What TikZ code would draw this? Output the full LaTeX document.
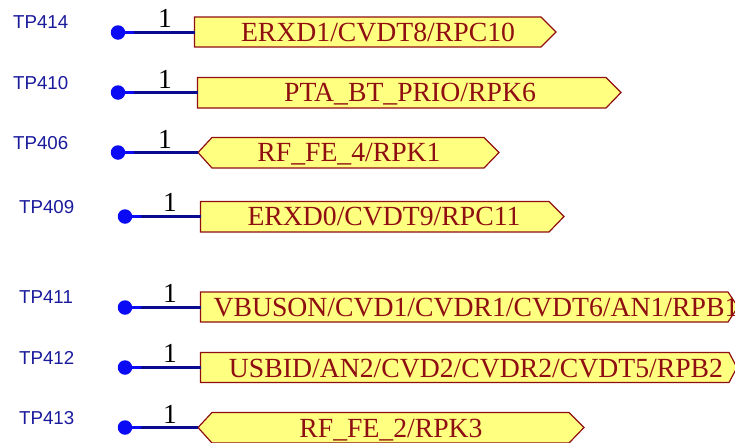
\documentclass[tikz,border=0pt]{standalone}
\usepackage{fontspec}
\setmainfont{Liberation Serif}
\newfontfamily\tpfont{Liberation Sans}
\definecolor{portred}{HTML}{8E0E12}
\definecolor{portfill}{HTML}{FFFF80}
\definecolor{tpblue}{HTML}{1A1A9C}
\definecolor{wirenavy}{HTML}{0A0A90}
\definecolor{dotblue}{HTML}{0A0AF5}
\tikzset{
  x=1pt,y=-1pt,
  portshape/.style={draw=portred,fill=portfill,line width=1.2pt,line join=miter},
  porttext/.style={text=portred,font=\fontsize{27.7}{28}\selectfont,inner sep=0pt,anchor=base},
  tplabel/.style={text=tpblue,font=\tpfont\fontsize{18.7}{19}\selectfont,inner sep=0pt,anchor=base west},
  pinnum/.style={text=black,font=\fontsize{27.5}{28}\selectfont,inner sep=0pt,anchor=base},
  tpdot/.style={circle,fill=dotblue,draw=none,minimum size=14.5pt,inner sep=0pt},
  wire/.style={draw=wirenavy,line width=2.8pt},
  stub/.style={draw=dotblue,line width=2.8pt},
}
\begin{document}
\begin{tikzpicture}
\useasboundingbox (0,0) rectangle (735,442);
\clip (0,0) rectangle (735,442);
% ports
\draw[portshape] (194.5,17) -- (541,17) -- (556,32) -- (541,47) -- (194.5,47) -- cycle;
\draw[portshape] (197.5,77.5) -- (606,77.5) -- (621,92.5) -- (606,108) -- (197.5,108) -- cycle;
\draw[portshape] (198,152.5) -- (212,137.5) -- (484,137.5) -- (499,152.5) -- (484,168) -- (212,168) -- cycle;
\draw[portshape] (200.5,201.5) -- (549,201.5) -- (564,216.5) -- (549,232) -- (200.5,232) -- cycle;
\draw[portshape] (200.5,292) -- (728,292) -- (738,307) -- (728,322) -- (200.5,322) -- cycle;
\draw[portshape] (200.5,352.5) -- (729,352.5) -- (737,367.5) -- (729,382.5) -- (200.5,382.5) -- cycle;
\draw[portshape] (198,427.5) -- (212,412.5) -- (569,412.5) -- (584,427.5) -- (569,443) -- (212,443) -- cycle;
% port texts
\node[porttext] (p414) at (378,41) {ERXD1/CVDT8/RPC10};
\node[porttext] (p410) at (410,101) {PTA\_BT\_PRIO/RPK6};
\node[porttext] (p406) at (349,161) {RF\_FE\_4/RPK1};
\node[porttext] (p409) at (384,225) {ERXD0/CVDT9/RPC11};
\node[porttext] (p411) at (476,316) {VBUSON/CVD1/CVDR1/CVDT6/AN1/RPB1};
\node[porttext] (p412) at (476,377) {USBID/AN2/CVD2/CVDR2/CVDT5/RPB2};
\node[porttext] (p413) at (391,437) {RF\_FE\_2/RPK3};
% test point labels
\node[tplabel] (l414) at (13,28) {TP414};
\node[tplabel] (l410) at (13,89) {TP410};
\node[tplabel] (l406) at (13,149) {TP406};
\node[tplabel] (l409) at (19,213) {TP409};
\node[tplabel] (l411) at (19,303) {TP411};
\node[tplabel] (l412) at (19,364) {TP412};
\node[tplabel] (l413) at (19,424) {TP413};
% dots and end coordinates
\foreach \n/\dx/\y/\ex in {414/118/32.5/194.5,410/118/92.5/197.5,406/118/152.5/198,409/125/216.5/200.5,411/125/307.5/200.5,412/125/367.5/200.5,413/125/427.5/198}{
  \node[tpdot] (d\n) at (\dx,\y) {};
  \coordinate (e\n) at (\ex,\y);
  \coordinate (m\n) at (\dx+16,\y);
  \draw[stub] (d\n) -- (m\n);
  \draw[wire] (m\n) -- (e\n);
}
% pin numbers
\node[pinnum] (n414) at (165,27) {1};
\node[pinnum] (n410) at (165,88) {1};
\node[pinnum] (n406) at (165,148) {1};
\node[pinnum] (n409) at (170,211) {1};
\node[pinnum] (n411) at (170,302) {1};
\node[pinnum] (n412) at (170,362) {1};
\node[pinnum] (n413) at (170,423) {1};
\end{tikzpicture}
\end{document}
